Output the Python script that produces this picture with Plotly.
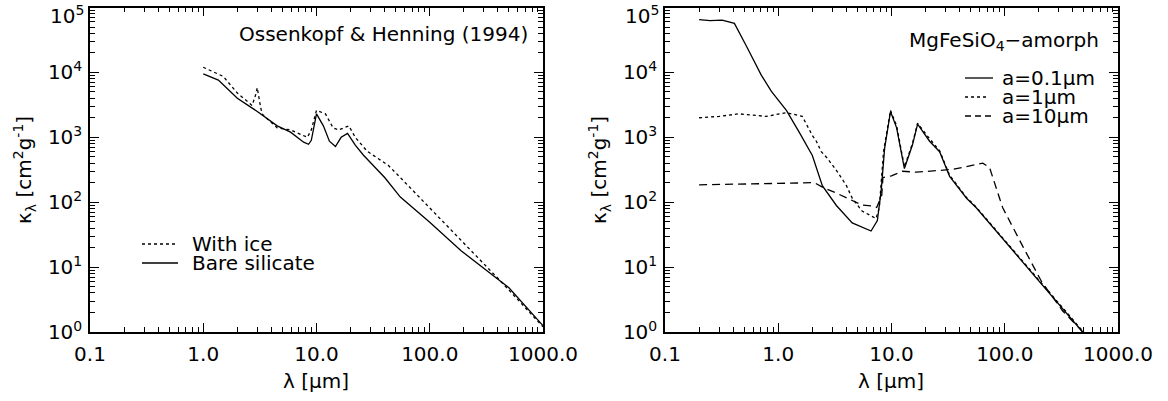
import plotly.graph_objects as go

# ---- left panel: Ossenkopf & Henning (1994) ----
lam_bare = [1.0, 1.36, 2.0, 3.0, 4.5, 5.9, 7.7, 8.5, 9.0, 10.0, 11.5, 13.0, 14.7, 16.5,
            18.8, 22.0, 26.0, 40.0, 55.0, 100.0, 188.0, 300.0, 500.0, 1000.0]
kap_bare = [9.5e3, 7.6e3, 4.0e3, 2.5e3, 1.5e3, 1.2e3, 840, 780, 900, 2.3e3, 1.5e3, 870, 720, 1.0e3,
            1.15e3, 760, 530, 240, 120, 49, 18, 9.7, 4.8, 1.25]

lam_ice = [1.0, 1.5, 2.0, 2.7, 2.9, 3.0, 3.15, 3.3, 4.5, 5.9, 8.3, 9.0, 10.0, 12.0, 14.0, 15.7,
           19.3, 22.0, 28.0, 43.0, 52.0, 83.0, 188.0, 425.0, 550.0, 1000.0]
kap_ice = [1.2e4, 8.7e3, 4.8e3, 3.1e3, 4.5e3, 5.8e3, 3.5e3, 2.3e3, 1.4e3, 1.3e3, 1.0e3, 1.3e3, 2.6e3, 2.3e3,
           1.4e3, 1.3e3, 1.5e3, 1.0e3, 610, 370, 265, 115, 26, 6.0, 3.7, 1.2]

# ---- right panel: MgFeSiO4 amorphous ----
lam_a01 = [0.2, 0.25, 0.32, 0.41, 0.52, 0.71, 0.87, 1.18, 1.53, 2.0, 2.45, 3.26, 4.5, 5.8, 6.6, 7.5,
           8.1, 8.7, 9.8, 11.1, 13.0, 15.3, 17.0, 21.7, 26.6, 32.6, 46.0, 56.0, 445.0, 1000.0]
kap_a01 = [6.5e4, 6.3e4, 6.4e4, 5.7e4, 2.6e4, 9.0e3, 5.1e3, 2.6e3, 1.2e3, 525, 180, 89, 48, 40, 36, 52,
           148, 680, 2.5e3, 1.4e3, 330, 760, 1.6e3, 870, 600, 250, 115, 82, 1.15, 0.23]

lam_a1 = [0.2, 0.3, 0.45, 0.6, 0.78, 1.18, 1.63, 2.0, 2.17, 2.4, 2.7, 3.26, 4.0, 4.5, 5.5, 7.3, 7.8,
          8.5, 9.8, 11.1, 13.0, 15.3, 17.0, 21.7, 26.6, 32.6, 46.0, 56.0, 445.0, 1000.0]
kap_a1 = [2.0e3, 2.1e3, 2.3e3, 2.2e3, 2.1e3, 2.4e3, 2.1e3, 1.07e3, 870, 600, 480, 310, 180, 115, 73, 56, 82,
          600, 2.6e3, 1.5e3, 350, 800, 1.65e3, 950, 620, 260, 118, 84, 1.18, 0.24]

lam_a10 = [0.2, 0.5, 1.0, 2.08, 2.55, 3.26, 4.5, 5.5, 6.6, 7.4, 8.2, 8.4, 10.0, 12.5, 16.6, 34.6,
           64.0, 73.5, 90.0, 96.0, 144.0, 211.0, 325.0, 445.0, 1000.0]
kap_a10 = [185, 188, 195, 200, 165, 138, 105, 90, 88, 83, 128, 240, 255, 300, 290, 320,
           400, 340, 115, 82, 21, 6.0, 2.1, 1.2, 0.24]

# ---- axis ticks ----
x_tickvals = [0.1, 1, 10, 100, 1000]
x_ticktext = ["0.1", "1.0", "10.0", "100.0", "1000.0"]
y_tickvals = [1, 10, 100, 1000, 1e4, 1e5]
# top label (10^5) is drawn separately, pushed down inside the figure like the original
y_ticktext = ["10<sup>0</sup>", "10<sup>1</sup>", "10<sup>2</sup>", "10<sup>3</sup>",
              "10<sup>4</sup>", ""]
y_toplabel = "10<sup>5</sup>"
x_minor = [m * 10 ** e for e in range(-1, 3) for m in range(2, 10)]
y_minor = [m * 10 ** e for e in range(0, 5) for m in range(2, 10)]

W, H = 1168, 401
FONT = "DejaVu Sans"


def px(x):
    return x / W


def py(y):
    return 1 - y / H


fig = go.Figure()
lw = 1.3
fig.add_trace(go.Scatter(x=lam_ice, y=kap_ice, mode="lines", xaxis="x", yaxis="y",
                         line=dict(color="black", width=lw, dash="dot")))
fig.add_trace(go.Scatter(x=lam_bare, y=kap_bare, mode="lines", xaxis="x", yaxis="y",
                         line=dict(color="black", width=lw)))
fig.add_trace(go.Scatter(x=lam_a01, y=kap_a01, mode="lines", xaxis="x2", yaxis="y2",
                         line=dict(color="black", width=lw)))
fig.add_trace(go.Scatter(x=lam_a1, y=kap_a1, mode="lines", xaxis="x2", yaxis="y2",
                         line=dict(color="black", width=lw, dash="dot")))
fig.add_trace(go.Scatter(x=lam_a10, y=kap_a10, mode="lines", xaxis="x2", yaxis="y2",
                         line=dict(color="black", width=lw, dash="8px,5px")))

ydom = [py(332), py(7.5)]
xax = dict(type="log", range=[-1, 3], showline=True, linecolor="black", linewidth=1.5,
           mirror="allticks", ticks="inside", ticklen=9, tickwidth=1, tickcolor="black",
           showgrid=False, zeroline=False, tickvals=x_tickvals, ticktext=x_ticktext,
           ticklabelstandoff=3, automargin=False, ticklabeloverflow="allow",
           minor=dict(ticks="inside", ticklen=5, tickwidth=1, tickcolor="black",
                      tickvals=x_minor, showgrid=False),
           tickfont=dict(family=FONT, size=20, color="black"))
yax = dict(type="log", range=[-0.0005, 5.0005], showline=True, linecolor="black", linewidth=1.5,
           mirror="allticks", ticks="inside", ticklen=9, tickwidth=1, tickcolor="black",
           showgrid=False, zeroline=False, tickvals=y_tickvals, ticktext=y_ticktext,
           ticklabelstandoff=2, automargin=False, domain=ydom, ticklabeloverflow="allow",
           minor=dict(ticks="inside", ticklen=5, tickwidth=1, tickcolor="black",
                      tickvals=y_minor, showgrid=False),
           tickfont=dict(family=FONT, size=20, color="black"))

fig.update_layout(
    width=W, height=H, template="none",
    paper_bgcolor="white", plot_bgcolor="white",
    margin=dict(l=0, r=0, t=0, b=0),
    showlegend=False,
    font=dict(family=FONT, size=20, color="black"),
    xaxis=dict(xax, domain=[px(90), px(543)], anchor="y"),
    yaxis=dict(yax, anchor="x"),
    xaxis2=dict(xax, domain=[px(665), px(1118)], anchor="y2"),
    yaxis2=dict(yax, anchor="x2"),
)


def label(x, y, text, xanchor="center", **kw):
    fig.add_annotation(x=px(x), y=py(y), xref="paper", yref="paper", text=text,
                       xanchor=xanchor, yanchor="middle", showarrow=False,
                       font=dict(size=20), **kw)


# top y tick labels
for xr in (86, 661):
    label(xr, 15, y_toplabel, xanchor="right")

# axis titles
ytitle = "κ<sub>λ</sub> [cm<sup>2</sup>g<sup>-1</sup>]"
for xc in (316, 891):
    label(xc, 381, "λ [μm]")
for xc in (24, 599):
    label(xc, 170, ytitle, textangle=-90)

# panel labels
label(530, 34, "Ossenkopf &amp; Henning (1994)", xanchor="right")
label(1101, 41, "MgFeSiO<sub>4</sub>−amorph", xanchor="right")

# legends
legends = [
    (142, 178, 244, 190, "With ice", "dot"),
    (142, 178, 263, 190, "Bare silicate", "solid"),
    (965, 993, 78, 1000, "a=0.1μm", "solid"),
    (965, 987, 97, 1000, "a=1μm", "dot"),
    (965, 993, 116, 1000, "a=10μm", "6px,4px"),
]
for x0, x1, yy, xt, text, dash in legends:
    fig.add_shape(type="line", xref="paper", yref="paper", x0=px(x0), x1=px(x1),
                  y0=py(yy), y1=py(yy), line=dict(color="black", width=lw, dash=dash))
    label(xt, yy, text, xanchor="left")

fig.write_html("out.html", config={"displayModeBar": False},
               post_script="document.body.style.margin='0';")
